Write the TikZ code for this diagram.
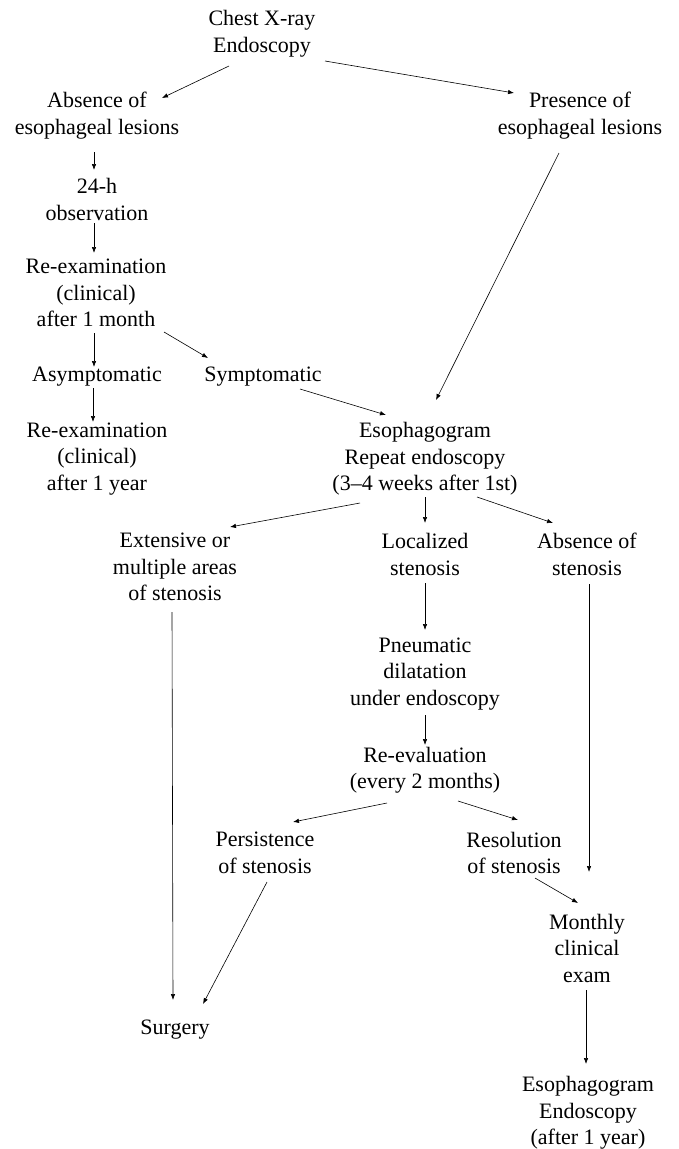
\documentclass[tikz,border=0pt]{standalone}
\usepackage{fontspec}
\setmainfont{Liberation Serif}
\usetikzlibrary{arrows.meta}
\begin{document}
\begin{tikzpicture}[x=1pt,y=-1pt,
  lbl/.style={align=center, inner sep=0pt, font=\fontsize{22}{26.5}\selectfont},
  arr/.style={-{Latex[length=6pt,width=4.5pt]}, line width=0.6pt}]
\useasboundingbox[fill=white] (0,0) rectangle (679,1149);

\node[lbl] (chest)     at (262,33.5)  {Chest X-ray\\Endoscopy};
\node[lbl] (absence)   at (97,115.5)  {Absence of\\esophageal lesions};
\node[lbl] (presence)  at (580,115.5) {Presence of\\esophageal lesions};
\node[lbl] (obs)       at (97,199.5)  {24-h\\observation};
\node[lbl] (reexamA)   at (96,293)    {Re-examination\\(clinical)\\after 1 month};
\node[lbl] (asym)      at (97,377)    {Asymptomatic};
\node[lbl] (sym)       at (263,377)   {Symptomatic};
\node[lbl] (reexamB)   at (97,459)    {Re-examination\\(clinical)\\after 1 year};
\node[lbl] (esoph)     at (425,459)   {Esophagogram\\Repeat endoscopy\\(3–4 weeks after 1st)};
\node[lbl] (extensive) at (175,567)   {Extensive or\\multiple areas\\of stenosis};
\node[lbl] (localized) at (425,554.5) {Localized\\stenosis};
\node[lbl] (absst)     at (587,554.5) {Absence of\\stenosis};
\node[lbl] (pneum)     at (425,674)   {Pneumatic\\dilatation\\under endoscopy};
\node[lbl] (reeval)    at (425,770)   {Re-evaluation\\(every 2 months)};
\node[lbl] (persist)   at (265,853)   {Persistence\\of stenosis};
\node[lbl] (resol)     at (514,853)   {Resolution\\of stenosis};
\node[lbl] (monthly)   at (587,948)   {Monthly\\clinical\\exam};
\node[lbl] (surgery)   at (175,1030)  {Surgery};
\node[lbl] (final)     at (588,1113)  {Esophagogram\\Endoscopy\\(after 1 year)};

\draw[arr] ([shift={(-33,32.5)}]chest.center) -- ([shift={(65,-17.5)}]absence.center);
\draw[arr] ([shift={(63,27.5)}]chest.center) -- ([shift={(-66,-22.5)}]presence.center);
\draw[arr] ([shift={(-3,36.5)}]absence.center) -- ([shift={(-3,-29.5)}]obs.center);
\draw[arr] ([shift={(-3,23.5)}]obs.center) -- ([shift={(-2,-40)}]reexamA.center);
\draw[arr] ([shift={(-2,40)}]reexamA.center) -- ([shift={(-3,-10)}]asym.center);
\draw[arr] ([shift={(68,39)}]reexamA.center) -- ([shift={(-55,-19)}]sym.center);
\draw[arr] ([shift={(-4,11)}]asym.center) -- ([shift={(-4,-37)}]reexamB.center);
\draw[arr] ([shift={(37,12)}]sym.center) -- ([shift={(-39,-44)}]esoph.center);
\draw[arr] ([shift={(-21,37.5)}]presence.center) -- ([shift={(11,-59)}]esoph.center);
\draw[arr] ([shift={(-65,44)}]esoph.center) -- ([shift={(55,-40)}]extensive.center);
\draw[arr] ([shift={(0,38)}]esoph.center) -- ([shift={(0,-31.5)}]localized.center);
\draw[arr] ([shift={(52,38)}]esoph.center) -- ([shift={(-34,-31.5)}]absst.center);
\draw[arr] ([shift={(-3,45)}]extensive.center) -- ([shift={(-2,-30)}]surgery.center);
\draw[arr] ([shift={(0,28.5)}]localized.center) -- ([shift={(0,-44)}]pneum.center);
\draw[arr] ([shift={(2,29.5)}]absst.center) -- ([shift={(2,-76)}]monthly.center);
\draw[arr] ([shift={(0,41)}]pneum.center) -- ([shift={(0,-25)}]reeval.center);
\draw[arr] ([shift={(-38,33)}]reeval.center) -- ([shift={(28,-31)}]persist.center);
\draw[arr] ([shift={(33,31)}]reeval.center) -- ([shift={(4,-33)}]resol.center);
\draw[arr] ([shift={(2,29)}]persist.center) -- ([shift={(28,-26)}]surgery.center);
\draw[arr] ([shift={(21,25)}]resol.center) -- ([shift={(-9,-45)}]monthly.center);
\draw[arr] ([shift={(-1,42)}]monthly.center) -- ([shift={(-2,-49)}]final.center);
\end{tikzpicture}
\end{document}
